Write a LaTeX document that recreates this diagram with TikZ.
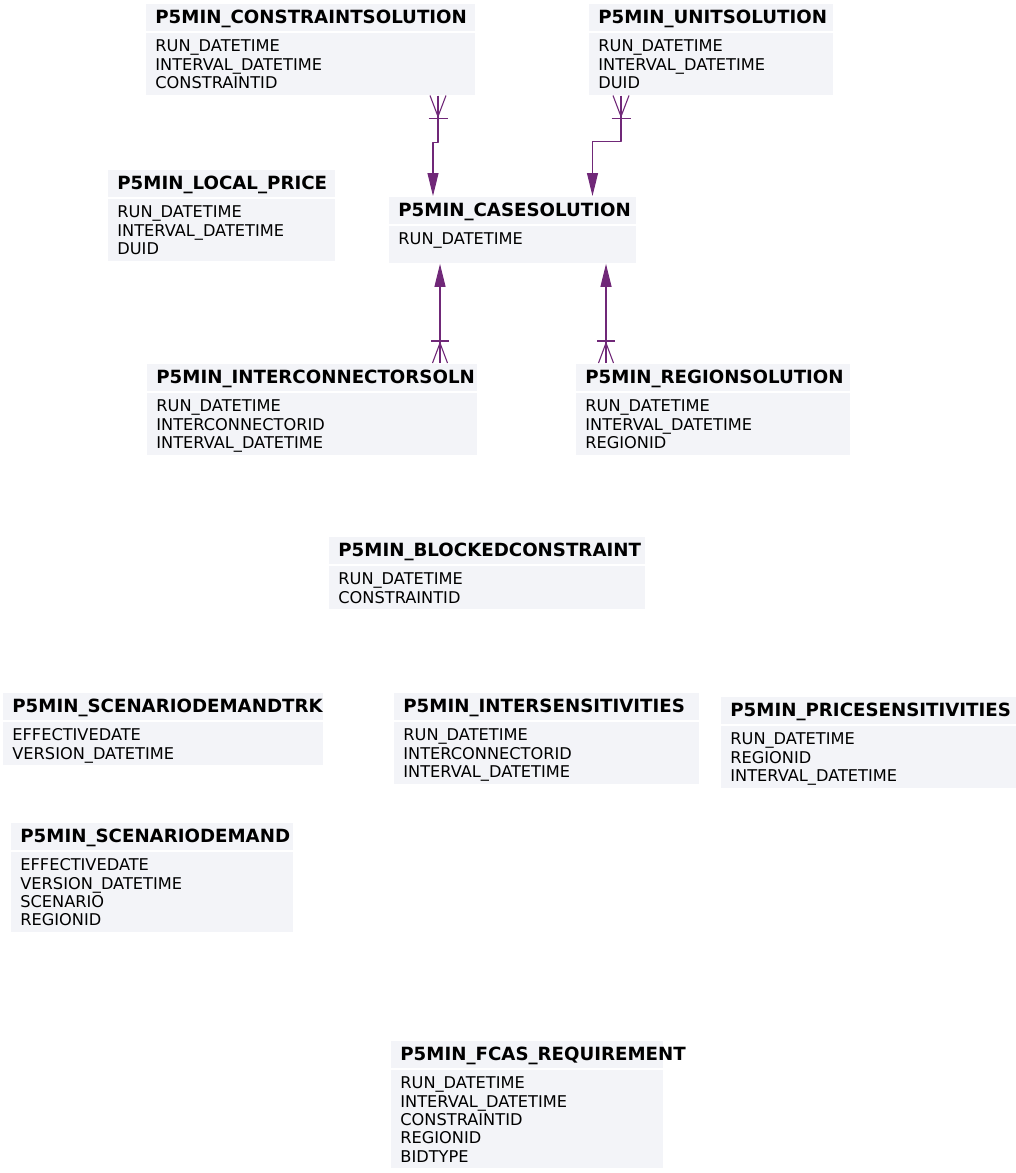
\documentclass[tikz,border=0pt]{standalone}
\usepackage{fontspec}
\setmainfont{DejaVu Sans}
\usetikzlibrary{positioning, arrows.meta}

\definecolor{boxfill}{RGB}{243,244,248}
\definecolor{relcol}{RGB}{112,40,120}

\begin{document}
\begin{tikzpicture}[
    x=1pt, y=-1pt,
    box/.style={rectangle, fill=boxfill, draw=white, line width=0.8pt, inner xsep=10pt, inner ysep=0pt, align=left, anchor=north west},
    tblhead/.style={box, text width=#1, minimum height=28pt, text height=13pt, text depth=0pt, font=\fontsize{18.2}{21}\selectfont\bfseries},
    tblbody/.style={box, text width=#1, text height=19.7pt, font=\fontsize{16.2}{18.3}\selectfont},
    nrows/.style={text depth={(#1-1)*18.3pt+6.6pt}},
    rel/.style={draw=relcol, line width=1.1pt, line join=round},
    one/.style={rel, -{Triangle[length=23pt, width=11pt]}}
    ]
    \useasboundingbox (0,0) rectangle (1015,1173);

    % Tables
    \node[tblhead=310] (conSol) at (145,3) {P5MIN\_CONSTRAINTSOLUTION};
    \node[tblbody=310, nrows=3, below=0pt of conSol] (conSol-f) {RUN\_DATETIME\\INTERVAL\_DATETIME\\CONSTRAINTID};

    \node[tblhead=225] (unitSol) at (588,3) {P5MIN\_UNITSOLUTION};
    \node[tblbody=225, nrows=3, below=0pt of unitSol] (unitSol-f) {RUN\_DATETIME\\INTERVAL\_DATETIME\\DUID};

    \node[tblhead=208] (localPrice) at (107,169) {P5MIN\_LOCAL\_PRICE};
    \node[tblbody=208, nrows=3, below=0pt of localPrice] (localPrice-f) {RUN\_DATETIME\\INTERVAL\_DATETIME\\DUID};

    \node[tblhead=228] (caseSol) at (388,196) {P5MIN\_CASESOLUTION};
    \node[tblbody=228, text depth=18.6pt, below=0pt of caseSol] (caseSol-f) {RUN\_DATETIME};

    \node[tblhead=311] (icSoln) at (146,363) {P5MIN\_INTERCONNECTORSOLN};
    \node[tblbody=311, nrows=3, below=0pt of icSoln] (icSoln-f) {RUN\_DATETIME\\INTERCONNECTORID\\INTERVAL\_DATETIME};

    \node[tblhead=255] (regionSol) at (575,363) {P5MIN\_REGIONSOLUTION};
    \node[tblbody=255, nrows=3, below=0pt of regionSol] (regionSol-f) {RUN\_DATETIME\\INTERVAL\_DATETIME\\REGIONID};

    \node[tblhead=297] (blocked) at (328,536) {P5MIN\_BLOCKEDCONSTRAINT};
    \node[tblbody=297, nrows=2, below=0pt of blocked] (blocked-f) {RUN\_DATETIME\\CONSTRAINTID};

    \node[tblhead=301] (scenTrk) at (2,692) {P5MIN\_SCENARIODEMANDTRK};
    \node[tblbody=301, nrows=2, below=0pt of scenTrk] (scenTrk-f) {EFFECTIVEDATE\\VERSION\_DATETIME};

    \node[tblhead=286] (interSens) at (393,692) {P5MIN\_INTERSENSITIVITIES};
    \node[tblbody=286, nrows=3, below=0pt of interSens] (interSens-f) {RUN\_DATETIME\\INTERCONNECTORID\\INTERVAL\_DATETIME};

    \node[tblhead=285] (priceSens) at (720,696) {P5MIN\_PRICESENSITIVITIES};
    \node[tblbody=285, nrows=3, below=0pt of priceSens] (priceSens-f) {RUN\_DATETIME\\REGIONID\\INTERVAL\_DATETIME};

    \node[tblhead=263] (scenDemand) at (10,822) {P5MIN\_SCENARIODEMAND};
    \node[tblbody=263, nrows=4, below=0pt of scenDemand] (scenDemand-f) {EFFECTIVEDATE\\VERSION\_DATETIME\\SCENARIO\\REGIONID};

    \node[tblhead=253] (fcasReq) at (390,1040) {P5MIN\_FCAS\_REQUIREMENT};
    \node[tblbody=253, nrows=5, below=0pt of fcasReq] (fcasReq-f) {RUN\_DATETIME\\INTERVAL\_DATETIME\\CONSTRAINTID\\REGIONID\\BIDTYPE};

    % Relations into CASESOLUTION
    \coordinate (csEnd) at ([xshift=293pt]conSol-f.south west);
    \draw[rel] (csEnd) ++(-8,0) -- ++(8,21) -- ++(8,-21);
    \draw[rel] (csEnd) ++(-9.5,23) -- ++(19,0);
    \draw[one] (csEnd) -- ++(0,47) -| ([xshift=45pt]caseSol.north west);

    \coordinate (usEnd) at ([xshift=33pt]unitSol-f.south west);
    \draw[rel] (usEnd) ++(-8,0) -- ++(8,21) -- ++(8,-21);
    \draw[rel] (usEnd) ++(-9.5,23) -- ++(19,0);
    \draw[one] (usEnd) -- ++(0,46) -| ([xshift=204.5pt]caseSol.north west);

    \coordinate (icEnd) at ([xshift=294pt]icSoln.north west);
    \draw[rel] (icEnd) ++(-7.5,0) -- ++(7.5,-20) -- ++(7.5,20);
    \draw[rel] (icEnd) ++(-9,-22) -- ++(18,0);
    \draw[one] (icEnd) -- (icEnd |- caseSol-f.south);

    \coordinate (rsEnd) at ([xshift=31pt]regionSol.north west);
    \draw[rel] (rsEnd) ++(-7.5,0) -- ++(7.5,-20) -- ++(7.5,20);
    \draw[rel] (rsEnd) ++(-9,-22) -- ++(18,0);
    \draw[one] (rsEnd) -- (rsEnd |- caseSol-f.south);
\end{tikzpicture}
\end{document}
